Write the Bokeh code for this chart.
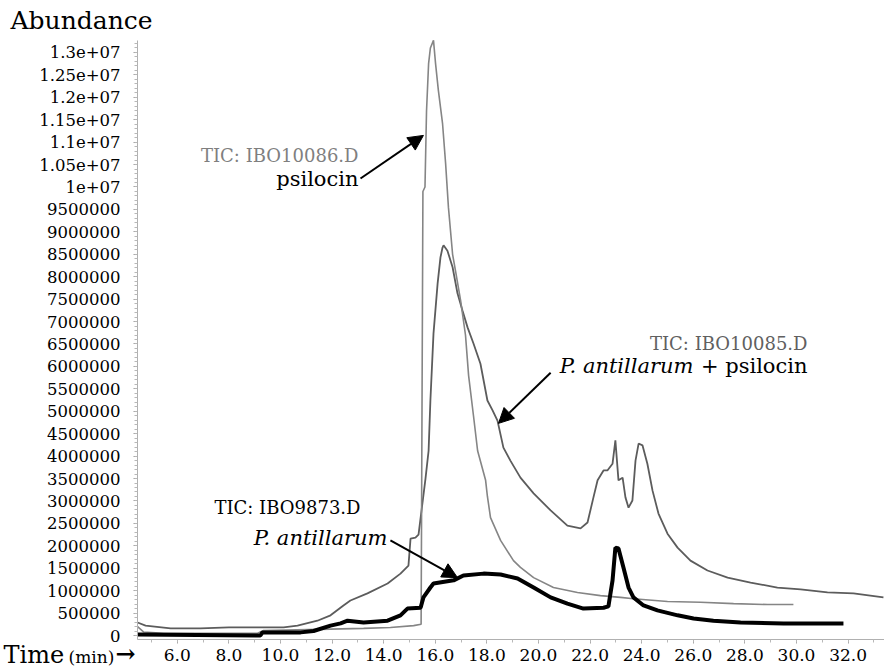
from bokeh.plotting import figure
from bokeh.models import Range1d, FixedTicker, Label, Arrow, NormalHead
from bokeh.embed import file_html
from bokeh.resources import INLINE

# ---------------- data (time in min, abundance in counts) ----------------
t_psilocin = [4.46, 4.69, 5.47, 9.11, 9.34, 13.22, 14.26, 15.16, 15.45, 15.52, 15.60, 15.66,
              15.74, 15.81, 15.93, 16.01, 16.12, 16.28, 16.40, 16.51, 16.67, 16.78, 16.98,
              17.17, 17.29, 17.48, 17.64, 17.95, 18.02, 18.14, 18.53, 19.03, 19.30, 19.81,
              20.58, 21.51, 22.40, 23.18, 23.68, 25.00, 26.28, 27.56, 28.88, 29.88]
a_psilocin = [200000, 80000, 50000, 50000, 110000, 160000, 180000, 220000, 250000, 9900000,
              10000000, 11700000, 12750000, 13100000, 13270000, 12750000, 12150000, 11420000,
              10520000, 9540000, 8500000, 8140000, 7470000, 6700000, 5800000, 4900000, 4120000,
              3460000, 3100000, 2630000, 2120000, 1670000, 1520000, 1290000, 1070000, 960000,
              890000, 850000, 820000, 760000, 740000, 710000, 690000, 690000]

t_mix = [4.46, 4.77, 5.74, 6.90, 8.00, 10.12, 10.66, 11.43, 11.94, 12.44, 12.71, 13.37,
         14.15, 14.65, 14.96, 15.04, 15.23, 15.35, 15.62, 15.74, 15.81, 15.93, 16.09, 16.20,
         16.28, 16.32, 16.47, 16.67, 16.86, 17.05, 17.25, 17.48, 17.75, 18.02, 18.22, 18.41,
         18.64, 18.91, 19.30, 19.81, 20.47, 21.12, 21.63, 21.90, 22.13, 22.29, 22.52, 22.67,
         22.87, 22.98, 23.10, 23.26, 23.37, 23.49, 23.64, 23.76, 23.88, 24.03, 24.22, 24.42,
         24.65, 25.00, 25.39, 25.89, 26.55, 27.33, 28.22, 29.26, 30.16, 31.20, 32.21, 33.37]
a_mix = [290000, 220000, 160000, 160000, 180000, 180000, 220000, 330000, 450000, 670000,
         780000, 940000, 1160000, 1380000, 1560000, 2160000, 2180000, 2250000, 3500000,
         4120000, 5240000, 6730000, 7850000, 8430000, 8650000, 8700000, 8580000, 8210000,
         7630000, 7250000, 6870000, 6510000, 6060000, 5240000, 5020000, 4790000, 4190000,
         3900000, 3520000, 3170000, 2790000, 2450000, 2390000, 2520000, 3080000, 3460000,
         3680000, 3680000, 3830000, 4350000, 3460000, 3520000, 3080000, 2850000, 3010000,
         3900000, 4280000, 4240000, 3830000, 3230000, 2720000, 2270000, 1960000, 1670000,
         1450000, 1290000, 1180000, 1070000, 1030000, 960000, 940000, 850000]

t_ant = [4.46, 9.22, 9.30, 10.78, 11.28, 11.94, 12.33, 12.60, 13.22, 14.15, 14.65, 14.92,
         15.43, 15.54, 15.81, 15.93, 16.71, 17.09, 17.87, 18.53, 19.19, 19.81, 20.47, 21.12,
         21.74, 22.52, 22.71, 22.87, 22.98, 23.10, 23.29, 23.49, 23.68, 24.07, 24.61, 25.39,
         26.01, 26.78, 27.83, 29.50, 31.82]
a_ant = [20000, 0, 70000, 70000, 100000, 220000, 270000, 330000, 290000, 330000, 450000,
         600000, 620000, 850000, 1070000, 1160000, 1230000, 1340000, 1380000, 1360000,
         1270000, 1070000, 850000, 710000, 600000, 620000, 650000, 1230000, 1960000,
         1940000, 1520000, 1070000, 850000, 670000, 560000, 450000, 380000, 330000,
         290000, 270000, 270000]

x_tick_values = [6, 8, 10, 12, 14, 16, 18, 20, 22, 24, 26, 28, 30, 32]
x_tick_labels = ["6.0", "8.0", "10.0", "12.0", "14.0", "16.0", "18.0", "20.0", "22.0",
                 "24.0", "26.0", "28.0", "30.0", "32.0"]
y_tick_values = [0, 500000, 1000000, 1500000, 2000000, 2500000, 3000000, 3500000, 4000000,
                 4500000, 5000000, 5500000, 6000000, 6500000, 7000000, 7500000, 8000000,
                 8500000, 9000000, 9500000, 10000000, 10500000, 11000000, 11500000,
                 12000000, 12500000, 13000000]
y_tick_labels = ["0", "500000", "1000000", "1500000", "2000000", "2500000", "3000000",
                 "3500000", "4000000", "4500000", "5000000", "5500000", "6000000", "6500000",
                 "7000000", "7500000", "8000000", "8500000", "9000000", "9500000", "1e+07",
                 "1.05e+07", "1.1e+07", "1.15e+07", "1.2e+07", "1.25e+07", "1.3e+07"]

# axis extents (data units)
x_axis_start, x_axis_end = 4.46, 33.41
y_axis_start, y_axis_end = -89000, 13270000

FONT = "DejaVu Serif"

p = figure(width=884, height=670, output_backend="svg", toolbar_location=None,
           x_range=Range1d(-0.853, 33.411), y_range=Range1d(-780000, 14158000),
           min_border_left=0, min_border_right=0, min_border_top=0, min_border_bottom=0,
           title_location=None)
p.outline_line_color = None
p.grid.visible = False
p.background_fill_color = "white"

# axes
xa = p.xaxis[0]
xa.ticker = FixedTicker(ticks=x_tick_values, minor_ticks=[float(v) for v in range(5, 34)])
xa.major_label_overrides = dict(zip(x_tick_values, x_tick_labels))
xa.fixed_location = y_axis_start
xa.bounds = (x_axis_start, x_axis_end)
ya = p.yaxis[0]
ya.ticker = FixedTicker(ticks=y_tick_values, minor_ticks=list(range(0, 13300000, 100000)))
ya.major_label_overrides = dict(zip(y_tick_values, y_tick_labels))
ya.fixed_location = x_axis_start
ya.bounds = (y_axis_start, y_axis_end)
for ax in (xa, ya):
    ax.axis_line_color = "#b0b0b0"
    ax.major_tick_line_color = "#a0a0a0"
    ax.minor_tick_line_color = "#b8b8b8"
    ax.major_tick_in = 0
    ax.minor_tick_in = 0
    ax.major_tick_out = 4
    ax.minor_tick_out = 3
    ax.major_label_text_font = FONT
    ax.major_label_text_color = "black"
ya.major_label_text_font_size = "16.5px"
xa.major_label_text_font_size = "17px"
ya.major_label_standoff = 13
xa.major_label_standoff = 5

# curves
p.line(t_mix, a_mix, line_color="#5c5c5c", line_width=1.8)
p.line(t_psilocin, a_psilocin, line_color="#858585", line_width=1.6)
p.line(t_ant, a_ant, line_color="black", line_width=4)

# annotations
def lab(x, y, text, size, color="black", align="left", style="normal"):
    p.add_layout(Label(x=x, y=y, text=text, text_font=FONT, text_font_size=size,
                       text_color=color, text_align=align, text_baseline="middle",
                       text_font_style=style))

lab(-0.465, 13720000, "Abundance", "25px")
lab(-0.736, -430000, "Time", "24px")
lab(1.783, -480000, "(min)", "17px")
lab(3.60, -400000, "\u2192", "24px", style="bold")

lab(13.023, 10700000, "TIC: IBO10086.D", "18px", color="#7f7f7f", align="right")
lab(13.023, 10170000, "psilocin", "21px", align="right")
lab(30.426, 6510000, "TIC: IBO10085.D", "18px", color="#606060", align="right")
lab(30.426, 6000000, "+ psilocin", "21px", align="right")
lab(26.008, 6000000, "P. antillarum", "21px", align="right", style="italic")
lab(13.10, 2850000, "TIC: IBO9873.D", "18px", align="right")
lab(14.147, 2170000, "P. antillarum", "21px", align="right", style="italic")

def arrow(x0, y0, x1, y1):
    p.add_layout(Arrow(end=NormalHead(size=15, fill_color="black", line_color="black"),
                       x_start=x0, y_start=y0, x_end=x1, y_end=y1,
                       line_color="black", line_width=2))

arrow(13.10, 10190000, 15.54, 11150000)
arrow(20.47, 5860000, 18.45, 4730000)
arrow(14.26, 2120000, 16.86, 1290000)

open("out.html", "w").write(file_html(p, INLINE))
